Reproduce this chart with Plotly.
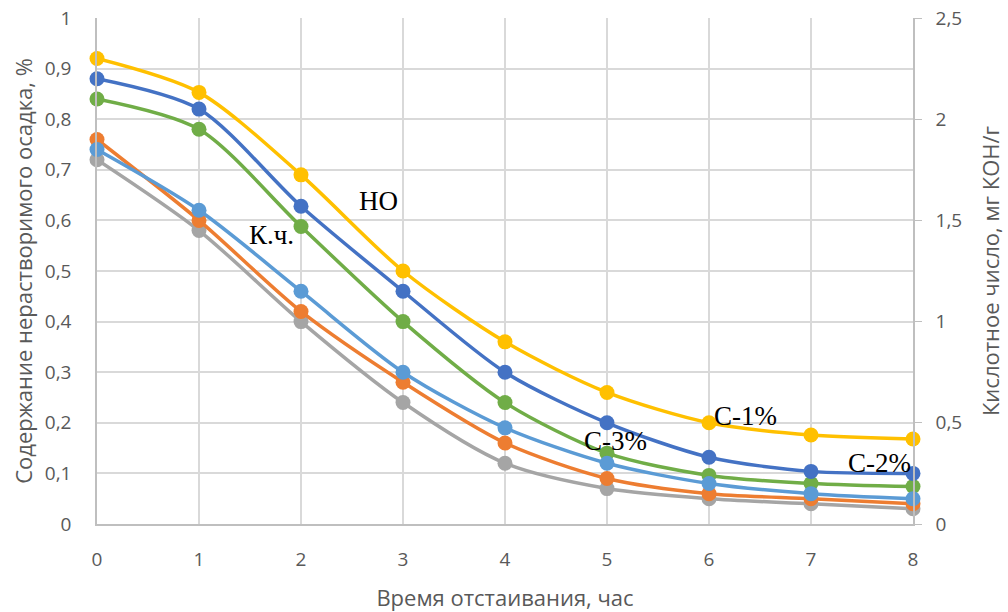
import plotly.graph_objects as go

hours = [0, 1, 2, 3, 4, 5, 6, 7, 8]

# Insoluble residue (left axis, %)
no_c1 = [0.92, 0.853, 0.69, 0.50, 0.36, 0.26, 0.20, 0.176, 0.168]
no_c2 = [0.88, 0.82, 0.628, 0.46, 0.30, 0.20, 0.132, 0.104, 0.10]
no_c3 = [0.84, 0.78, 0.588, 0.40, 0.24, 0.14, 0.096, 0.08, 0.074]

# Acid number (right axis, mg KOH/g)
kch_lb = [1.85, 1.55, 1.15, 0.75, 0.475, 0.30, 0.20, 0.15, 0.125]
kch_or = [1.90, 1.50, 1.05, 0.70, 0.40, 0.225, 0.15, 0.125, 0.10]
kch_gr = [1.80, 1.45, 1.00, 0.60, 0.30, 0.175, 0.125, 0.10, 0.075]

left_ticks = [0, 0.1, 0.2, 0.3, 0.4, 0.5, 0.6, 0.7, 0.8, 0.9, 1]
right_ticks = [0, 0.5, 1, 1.5, 2, 2.5]

series = [
    (kch_gr, "#A5A5A5", "y2", "К.ч. С-3%"),
    (kch_or, "#ED7D31", "y2", "К.ч. С-2%"),
    (kch_lb, "#5B9BD5", "y2", "К.ч. С-1%"),
    (no_c3, "#70AD47", "y", "НО С-3%"),
    (no_c2, "#4472C4", "y", "НО С-2%"),
    (no_c1, "#FFC000", "y", "НО С-1%"),
]

fig = go.Figure()
for vals, col, ax, name in series:
    fig.add_trace(go.Scatter(
        x=hours, y=vals, yaxis=ax, name=name, mode="lines+markers",
        line=dict(color=col, width=3.5, shape="spline", smoothing=0.8),
        marker=dict(color=col, size=15),
        cliponaxis=False, showlegend=False,
    ))

tick_font = dict(family="Open Sans", size=19, color="#595959")
title_font = dict(family="Open Sans", size=22, color="#595959")
grid = "#d9d9d9"

fig.update_layout(
    width=1008, height=612,
    margin=dict(l=97, r=95, t=18, b=88),
    plot_bgcolor="white", paper_bgcolor="white",
    separators=", ",
    xaxis=dict(range=[0, 8], tickvals=hours, tickfont=tick_font,
               showgrid=True, gridcolor=grid, gridwidth=1.5,
               showline=True, linecolor="#bfbfbf", linewidth=1.5,
               zeroline=False, ticks="", ticklabelstandoff=17, automargin=False,
               title=dict(text="Время отстаивания, час", font=title_font, standoff=20)),
    yaxis=dict(range=[0, 1], tickvals=left_ticks, tickfont=tick_font,
               showgrid=True, gridcolor=grid, gridwidth=1.5,
               showline=True, linecolor="#bfbfbf", linewidth=1.5,
               zeroline=False, ticks="", ticklabelstandoff=20, automargin=False,
               title=dict(text="Содержание нерастворимого осадка, %", font=title_font, standoff=6)),
    yaxis2=dict(range=[0, 2.5], tickvals=right_ticks, tickfont=tick_font,
                overlaying="y", side="right", showgrid=False,
                showline=True, linecolor="#bfbfbf", linewidth=1.5,
                zeroline=False, ticks="outside", ticklen=7, tickcolor="#bfbfbf",
                ticklabelstandoff=10, automargin=False,
                title=dict(text="Кислотное число, мг КОН/г", font=title_font, standoff=22)),
)

ann_font = dict(family="Liberation Serif", size=27, color="black")
labels = [
    ("НО", 2.76, 0.638),
    ("К.ч.", 1.71, 0.571),
    ("С-3%", 5.08, 0.165),
    ("С-1%", 6.36, 0.213),
    ("С-2%", 7.67, 0.12),
]
for txt, x, y in labels:
    fig.add_annotation(x=x, y=y, xref="x", yref="y", text=txt, showarrow=False,
                       font=ann_font)

fig.write_html("out.html")
